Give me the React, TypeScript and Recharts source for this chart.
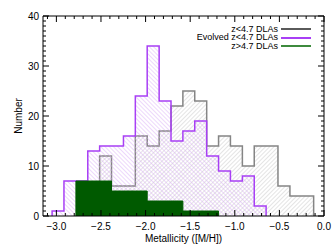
import { Area, ComposedChart, XAxis, YAxis } from "recharts";

// histogram bin edges (metallicity) and counts per bin
const BIN_EDGES = [
  -3.048, -2.915, -2.781, -2.648, -2.515, -2.382, -2.248, -2.115, -1.982, -1.848, -1.715, -1.582,
  -1.449, -1.315, -1.182, -1.049, -0.915, -0.782, -0.649, -0.516, -0.382, -0.249, -0.116,
];
const LOW_Z = [0, 0, 0, 0, 12, 6, 6, 16, 14, 17, 22, 25, 23, 14, 16, 14, 10, 14, 14, 6, 4, 4];
const EVOLVED = [1, 7, 7, 13, 14, 14, 16, 24, 34, 23, 15, 17, 19, 12, 9, 7, 8, 2, 0, 0, 0, 0];
const HIGH_Z = [0, 0, 7, 7, 7, 5, 5, 5, 3, 3, 3, 1, 1, 1, 0, 0, 0, 0, 0, 0, 0, 0];

const X_MAJOR = [-3.0, -2.5, -2.0, -1.5, -1.0, -0.5, 0.0];
const Y_MAJOR = [0, 10, 20, 30, 40];
const X_TICKS = Array.from({ length: 32 }, (_, i) => +(-3.1 + i * 0.1).toFixed(1));
const Y_TICKS = Array.from({ length: 41 }, (_, i) => i);

const LEGEND = [
  { name: "z<4.7 DLAs", color: "#5a5a5a" },
  { name: "Evolved z<4.7 DLAs", color: "#a83ff5" },
  { name: "z>4.7 DLAs", color: "#3d8a3d" },
];

function toSteps(vals: number[]) {
  let s = vals.findIndex((v) => v > 0);
  let e = vals.length - 1;
  while (e > 0 && vals[e] === 0) e--;
  const pts = [{ x: BIN_EDGES[s], v: 0 }];
  for (let i = s; i <= e; i++) pts.push({ x: BIN_EDGES[i], v: vals[i] });
  pts.push({ x: BIN_EDGES[e + 1], v: 0 });
  return pts;
}

const isMajorX = (v: number) => X_MAJOR.some((m) => Math.abs(m - v) < 1e-6);
const isMajorY = (v: number) => Y_MAJOR.includes(v);
const fmtX = (v: number) => (Math.abs(v) < 1e-9 ? "0.0" : v.toFixed(1).replace("-", "\u2212"));

const FONT = "'Liberation Sans', Arial, sans-serif";

const BottomTick = (p: any) => {
  const v = p.payload.value;
  const major = isMajorX(v);
  return (
    <g>
      <line x1={p.x} x2={p.x} y1={p.y} y2={p.y - (major ? 6 : 3)} stroke="#000" />
      {major && (
        <text x={p.x} y={p.y + 13.5} textAnchor="middle" fontSize={10} fontFamily={FONT} fill="#000">
          {fmtX(v)}
        </text>
      )}
    </g>
  );
};

const TopTick = (p: any) => {
  const major = isMajorX(p.payload.value);
  return <line x1={p.x} x2={p.x} y1={p.y} y2={p.y + (major ? 6 : 3)} stroke="#000" />;
};

const LeftTick = (p: any) => {
  const v = p.payload.value;
  const major = isMajorY(v);
  return (
    <g>
      <line x1={p.x} x2={p.x + (major ? 6 : 3)} y1={p.y} y2={p.y} stroke="#000" />
      {major && (
        <text x={p.x - 4} y={p.y} dy="0.35em" textAnchor="end" fontSize={10} fontFamily={FONT} fill="#000">
          {v}
        </text>
      )}
    </g>
  );
};

const RightTick = (p: any) => {
  const major = isMajorY(p.payload.value);
  return <line x1={p.x} x2={p.x - (major ? 6 : 3)} y1={p.y} y2={p.y} stroke="#000" />;
};

export default function App() {
  return (
    <div style={{ position: "absolute", left: 0, top: 0, width: 333, height: 246, fontFamily: FONT, background: "#fff" }}>
      <ComposedChart width={333} height={246} margin={{ top: 0, right: 0, bottom: 0, left: 0 }}>
        <defs>
          <pattern id="hatchGrey" width="3" height="3" patternUnits="userSpaceOnUse" patternTransform="rotate(45)">
            <line x1="0" y1="0" x2="0" y2="3" stroke="#bcbcbc" strokeWidth="0.8" />
          </pattern>
          <pattern id="hatchPurple" width="3" height="3" patternUnits="userSpaceOnUse" patternTransform="rotate(-45)">
            <line x1="0" y1="0" x2="0" y2="3" stroke="#d8a8f7" strokeWidth="0.9" />
          </pattern>
        </defs>
        <XAxis
          xAxisId="b"
          type="number"
          dataKey="x"
          domain={[-3.15, 0]}
          allowDataOverflow
          ticks={X_TICKS}
          interval={0}
          height={30}
          tickLine={false}
          tickSize={0}
          tickMargin={0}
          axisLine={{ stroke: "#000" }}
          tick={BottomTick}
        />
        <XAxis
          xAxisId="t"
          orientation="top"
          type="number"
          dataKey="x"
          domain={[-3.15, 0]}
          allowDataOverflow
          ticks={X_TICKS}
          interval={0}
          height={16}
          tickLine={false}
          tickSize={0}
          tickMargin={0}
          axisLine={{ stroke: "#000" }}
          tick={TopTick}
        />
        <YAxis
          yAxisId="l"
          type="number"
          domain={[0, 40]}
          allowDataOverflow
          ticks={Y_TICKS}
          interval={0}
          width={43}
          tickLine={false}
          tickSize={0}
          tickMargin={0}
          axisLine={{ stroke: "#000" }}
          tick={LeftTick}
        />
        <YAxis
          yAxisId="r"
          orientation="right"
          type="number"
          domain={[0, 40]}
          allowDataOverflow
          ticks={Y_TICKS}
          interval={0}
          width={9}
          tickLine={false}
          tickSize={0}
          tickMargin={0}
          axisLine={{ stroke: "#000" }}
          tick={RightTick}
        />
        <Area
          xAxisId="b"
          yAxisId="l"
          data={toSteps(LOW_Z)}
          dataKey="v"
          type="stepAfter"
          stroke="#858585"
          strokeWidth={1.5}
          fill="url(#hatchGrey)"
          fillOpacity={1}
          dot={false}
          activeDot={false}
          isAnimationActive={false}
        />
        <Area
          xAxisId="b"
          yAxisId="l"
          data={toSteps(EVOLVED)}
          dataKey="v"
          type="stepAfter"
          stroke="#a83ff5"
          strokeWidth={1.5}
          fill="url(#hatchPurple)"
          fillOpacity={1}
          dot={false}
          activeDot={false}
          isAnimationActive={false}
        />
        <Area
          xAxisId="b"
          yAxisId="l"
          data={toSteps(HIGH_Z)}
          dataKey="v"
          type="stepAfter"
          stroke="#005a00"
          strokeWidth={1}
          fill="#005a00"
          fillOpacity={1}
          dot={false}
          activeDot={false}
          isAnimationActive={false}
        />
      </ComposedChart>

      <div style={{ position: "absolute", left: 150, top: 24.5 }}>
        {LEGEND.map((l) => (
          <div key={l.name} style={{ display: "flex", alignItems: "center", height: 8.8 }}>
            <span style={{ width: 128, textAlign: "right", fontSize: 9, lineHeight: "8.8px", color: "#000", whiteSpace: "nowrap" }}>
              {l.name}
            </span>
            <span style={{ marginLeft: 3, width: 30, height: 2, background: l.color, display: "inline-block" }} />
          </div>
        ))}
      </div>

      <div
        style={{
          position: "absolute",
          left: 17.5,
          top: 116,
          transform: "translate(-50%, -50%) rotate(-90deg)",
          fontSize: 10,
          whiteSpace: "nowrap",
          color: "#000",
        }}
      >
        Number
      </div>
      <div
        style={{
          position: "absolute",
          left: 183.5,
          top: 238,
          transform: "translate(-50%, -50%)",
          fontSize: 10,
          lineHeight: "11px",
          whiteSpace: "nowrap",
          color: "#000",
        }}
      >
        Metallicity ([M/H])
      </div>
    </div>
  );
}
